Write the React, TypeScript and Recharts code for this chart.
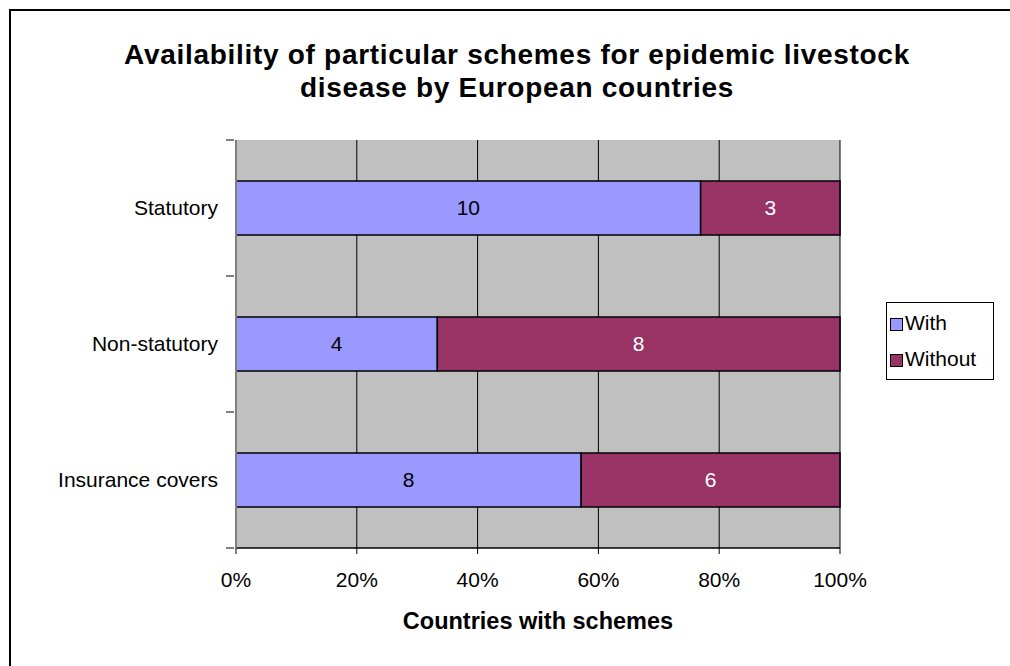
import React from "react";
import { BarChart, Bar, XAxis, YAxis, CartesianGrid, LabelList } from "recharts";

const categories = ["Statutory", "Non-statutory", "Insurance covers"];
const withValues = [10, 4, 8];
const withoutValues = [3, 8, 6];
const xTicks = [0, 0.2, 0.4, 0.6, 0.8, 1];
const seriesNames = ["With", "Without"];
const seriesColors = ["#9999FF", "#993366"];

const data = categories.map((c, i) => ({ name: c, With: withValues[i], Without: withoutValues[i] }));

const FONT = "'Liberation Sans', Arial, sans-serif";

if (typeof document !== "undefined") {
  document.body.style.margin = "0";
  document.body.style.overflow = "hidden";
}

const XTick = (props: any) => {
  const { x, y, payload } = props;
  return (
    <g>
      <line x1={x} x2={x} y1={y - 8} y2={y - 2} stroke="#000" strokeWidth={1} />
      <text x={x} y={y + 31} textAnchor="middle" fontSize={21} fontFamily={FONT} fill="#000">
        {Math.round(payload.value * 100) + "%"}
      </text>
    </g>
  );
};

const YTick = (props: any) => {
  const { x, y, payload, index } = props;
  const half = 68;
  return (
    <g>
      <line x1={x - 2} x2={x + 6} y1={y - half} y2={y - half} stroke="#000" strokeWidth={1} />
      {index === categories.length - 1 ? (
        <line x1={x - 2} x2={x + 6} y1={y + half} y2={y + half} stroke="#000" strokeWidth={1} />
      ) : null}
      <text x={x - 10} y={y + 7} textAnchor="end" fontSize={21} fontFamily={FONT} fill="#000">
        {payload.value}
      </text>
    </g>
  );
};

function LegendBox() {
  return (
    <div
      style={{
        position: "absolute",
        left: 886,
        top: 302,
        border: "1px solid #000",
        background: "#fff",
        width: 108,
        height: 78,
        boxSizing: "border-box",
        padding: "8px 0 0 3px",
        fontFamily: FONT,
        fontSize: 21,
      }}
    >
      {seriesNames.map((n, i) => (
        <div key={n} style={{ display: "flex", alignItems: "center", height: 24, marginBottom: 12 }}>
          <span
            style={{
              display: "inline-block",
              width: 11,
              height: 11,
              background: seriesColors[i],
              border: "1.5px solid #000",
              marginRight: 2,
              marginTop: 3,
            }}
          />
          <span>{n}</span>
        </div>
      ))}
    </div>
  );
}

export default function App() {
  return (
    <div style={{ position: "relative", width: 1010, height: 666, overflow: "hidden", background: "#fff" }}>
      <div
        style={{
          position: "absolute",
          left: 9,
          top: 9,
          width: 1020,
          height: 700,
          border: "2px solid #000",
          boxSizing: "border-box",
        }}
      />
      <div
        style={{
          position: "absolute",
          left: 0,
          width: 1034,
          top: 38,
          textAlign: "center",
          fontFamily: FONT,
          fontWeight: "bold",
          fontSize: 28,
          lineHeight: "33px",
          letterSpacing: 0.7,
          color: "#000",
        }}
      >
        Availability of particular schemes for epidemic livestock
        <br />
        disease by European countries
      </div>
      <div
        style={{
          position: "absolute",
          left: 236,
          width: 604,
          top: 607,
          lineHeight: "28px",
          textAlign: "center",
          fontFamily: FONT,
          fontWeight: "bold",
          fontSize: 23.5,
          color: "#000",
        }}
      >
        Countries with schemes
      </div>
      <div style={{ position: "absolute", left: 0, top: 0 }}>
        <BarChart
          width={1010}
          height={666}
          data={data}
          layout="vertical"
          stackOffset="expand"
          barSize={54}
          margin={{ top: 140, right: 170, left: 0, bottom: 0 }}
        >
          <CartesianGrid horizontal={false} vertical={true} stroke="#000" fill="#C0C0C0" strokeWidth={1} />
          <XAxis
            type="number"
            domain={[0, 1]}
            ticks={xTicks}
            height={118}
            axisLine={{ stroke: "#000", strokeWidth: 1.5 }}
            tickLine={false}
            tick={<XTick />}
            interval={0}
          />
          <YAxis
            type="category"
            dataKey="name"
            width={236}
            axisLine={{ stroke: "#808080", strokeWidth: 2 }}
            tickLine={false}
            tick={<YTick />}
            interval={0}
          />
          <Bar dataKey="With" stackId="a" fill={seriesColors[0]} stroke="#000" strokeWidth={1.5} isAnimationActive={false}>
            <LabelList dataKey="With" position="center" fill="#000" fontSize={21} fontFamily={FONT} />
          </Bar>
          <Bar dataKey="Without" stackId="a" fill={seriesColors[1]} stroke="#000" strokeWidth={1.5} isAnimationActive={false}>
            <LabelList dataKey="Without" position="center" fill="#fff" fontSize={21} fontFamily={FONT} />
          </Bar>
        </BarChart>
      </div>
      <LegendBox />
    </div>
  );
}
